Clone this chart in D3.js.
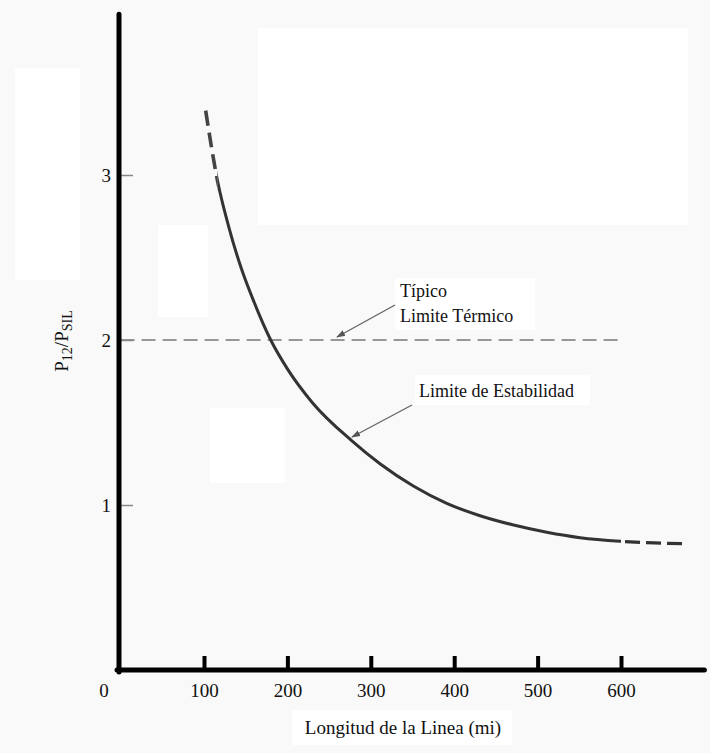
<!DOCTYPE html>
<html>
<head>
<meta charset="utf-8">
<script src="https://cdn.jsdelivr.net/npm/d3@7"></script>
<style>
  html, body { margin: 0; padding: 0; background: #f9f9f9; }
  svg { display: block; }
</style>
</head>
<body>
<svg id="chart" width="710" height="753"></svg>
<script>
// ---- data ----
const xTicks = [100, 200, 300, 400, 500, 600];
const yTicks = [1, 2, 3];
// Stability limit curve (line length in miles, P12/PSIL)
const lengthMi = [102, 116, 130, 145, 160, 180, 200, 230, 277, 311, 351, 391, 431, 470, 511, 551, 599, 640, 677];
const ratio    = [3.39, 2.97, 2.68, 2.43, 2.23, 2.0, 1.825, 1.62, 1.39, 1.25, 1.115, 1.01, 0.935, 0.88, 0.835, 0.802, 0.78, 0.77, 0.765];
const solidFrom = 116, solidTo = 600;
// Typical thermal limit
const thermalX = [0, 600];
const thermalY = [2, 2];
const xLabel = "Longitud de la Linea (mi)";
const thermalLabel = ["Típico", "Limite Térmico"];
const stabilityLabel = "Limite de Estabilidad";

// ---- drawing ----
const FONT = "'Liberation Serif', 'Times New Roman', Times, 'DejaVu Serif', serif";
const svg = d3.select("#chart").attr("font-family", FONT).style("font-family", FONT);
const x = d3.scaleLinear().domain([0, 700]).range([120.6, 704.4]);
const y = d3.scaleLinear().domain([0, 4]).range([670, 10]);

// background patches (scan artefacts)
const patches = [[258, 28, 430, 197], [158, 225, 50, 92], [15, 68, 65, 212], [210, 408, 75, 75], [395, 278, 140, 52], [415, 375, 175, 30], [292, 710, 220, 35]];
svg.selectAll("rect.patch").data(patches).join("rect")
  .attr("class", "patch")
  .attr("x", d => d[0]).attr("y", d => d[1]).attr("width", d => d[2]).attr("height", d => d[3])
  .attr("fill", "#ffffff");

const defs = svg.append("defs");
defs.append("marker").attr("id", "arrow")
  .attr("viewBox", "0 0 10 10").attr("refX", 9).attr("refY", 5)
  .attr("markerWidth", 9).attr("markerHeight", 9).attr("markerUnits", "userSpaceOnUse")
  .attr("orient", "auto")
  .append("path").attr("d", "M0,1.5 L10,5 L0,8.5 Z").attr("fill", "#555");

defs.append("clipPath").attr("id", "clipLead").append("rect")
  .attr("x", 0).attr("y", 0).attr("width", x(solidFrom)).attr("height", 753);
defs.append("clipPath").attr("id", "clipMid").append("rect")
  .attr("x", x(solidFrom)).attr("y", 0).attr("width", x(solidTo) - x(solidFrom)).attr("height", 753);
defs.append("clipPath").attr("id", "clipTail").append("rect")
  .attr("x", x(solidTo)).attr("y", 0).attr("width", 710 - x(solidTo)).attr("height", 753);

// thermal limit dashed line
const thermal = thermalX.map((v, i) => [v, thermalY[i]]);
svg.append("path")
  .attr("d", d3.line().x(d => x(d[0])).y(d => y(d[1]))(thermal))
  .attr("fill", "none").attr("stroke", "#777").attr("stroke-width", 1.6)
  .attr("stroke-dasharray", "14 7");

// stability curve
const pts = lengthMi.map((v, i) => [v, ratio[i]]);
const curve = d3.line().x(d => x(d[0])).y(d => y(d[1])).curve(d3.curveMonotoneX);
const dStr = curve(pts);
svg.append("path").attr("d", dStr).attr("clip-path", "url(#clipLead)")
  .attr("fill", "none").attr("stroke", "#444").attr("stroke-width", 3.6)
  .attr("stroke-dasharray", "15 7");
svg.append("path").attr("d", dStr).attr("clip-path", "url(#clipMid)")
  .attr("fill", "none").attr("stroke", "#333").attr("stroke-width", 3);
const tailPath = svg.append("path").attr("d", dStr).attr("clip-path", "url(#clipTail)")
  .attr("fill", "none").attr("stroke", "#333").attr("stroke-width", 3.2);
// align the tail dashes so a gap starts right at the solid end
(function () {
  const node = tailPath.node();
  const L = node.getTotalLength();
  let lo = 0, hi = L;
  for (let i = 0; i < 40; i++) {
    const mid = (lo + hi) / 2;
    if (node.getPointAtLength(mid).x < x(solidTo)) lo = mid; else hi = mid;
  }
  const tail = L - lo;
  const pattern = [0, lo + 4];
  let acc = 0;
  while (acc < tail) { pattern.push(15, 6); acc += 21; }
  tailPath.attr("stroke-dasharray", pattern.join(" "));
})();

// axes
const xAxis = d3.axisBottom(x).tickValues(xTicks).tickFormat(d3.format("d"))
  .tickSizeInner(-14).tickSizeOuter(0).tickPadding(14);
const gx = svg.append("g").attr("transform", "translate(0,670)").call(xAxis)
  .attr("font-family", FONT).attr("font-size", 19);
gx.select(".domain").remove();
gx.selectAll(".tick line").attr("stroke", "#000").attr("stroke-width", 4);
gx.selectAll(".tick text").attr("fill", "#111");

const yAxis = d3.axisLeft(y).tickValues(yTicks).tickFormat(d3.format("d"))
  .tickSizeInner(-13).tickSizeOuter(0).tickPadding(9);
const gy = svg.append("g").attr("transform", "translate(120,0)").call(yAxis)
  .attr("font-family", FONT).attr("font-size", 19);
gy.select(".domain").remove();
gy.selectAll(".tick line").attr("stroke", "#888").attr("stroke-width", 1.5);
gy.selectAll(".tick text").attr("fill", "#111");

// thick axis lines
svg.append("line").attr("x1", 119).attr("x2", 119).attr("y1", y(3.975)).attr("y2", 672)
  .attr("stroke", "#000").attr("stroke-width", 5).attr("stroke-linecap", "round");
svg.append("line").attr("x1", 117).attr("x2", x(700)).attr("y1", 670).attr("y2", 670)
  .attr("stroke", "#000").attr("stroke-width", 5).attr("stroke-linecap", "round");

function txt(xp, yp, s, size) {
  return svg.append("text").attr("x", xp).attr("y", yp).attr("font-size", size)
    .attr("font-family", FONT).attr("fill", "#111").text(s);
}
// origin label
txt(104, 697, "0", 19).attr("text-anchor", "middle");
// x label
txt(403, 734, xLabel, 19).attr("text-anchor", "middle");

// y label
const yl = svg.append("text").attr("transform", "translate(68,341) rotate(-90)")
  .attr("text-anchor", "middle").attr("font-size", 19).attr("font-family", FONT).attr("fill", "#111");
yl.append("tspan").text("P");
yl.append("tspan").attr("font-size", 14).attr("baseline-shift", "-25%").text("12");
yl.append("tspan").text("/P");
yl.append("tspan").attr("font-size", 14).attr("baseline-shift", "-25%").text("SIL");

// annotations
txt(400, 297, thermalLabel[0], 18);
txt(400, 322, thermalLabel[1], 18);
svg.append("line").attr("x1", 395).attr("y1", 305).attr("x2", 337).attr("y2", 337)
  .attr("stroke", "#666").attr("stroke-width", 1.3).attr("marker-end", "url(#arrow)");

txt(419, 397, stabilityLabel, 18);
svg.append("line").attr("x1", 412).attr("y1", 405).attr("x2", 352).attr("y2", 437)
  .attr("stroke", "#666").attr("stroke-width", 1.3).attr("marker-end", "url(#arrow)");
</script>
</body>
</html>
